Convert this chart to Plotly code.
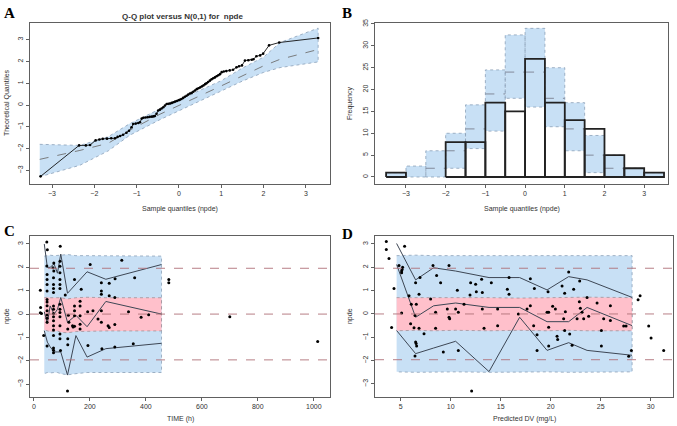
import plotly.graph_objects as go

# ---------------- data ----------------
# A: Q-Q plot (sample quantiles vs theoretical)
qq_x = [-3.27, -2.36, -2.2, -2.1, -1.97, -1.88, -1.80, -1.70, -1.60, -1.51, -1.45, -1.39,
        -1.32, -1.24, -1.18, -1.12, -1.08, -1.02, -0.96, -0.92, -0.88, -0.84, -0.79, -0.74,
        -0.69, -0.64, -0.60, -0.57, -0.53, -0.49, -0.45, -0.41, -0.37, -0.33, -0.29, -0.25,
        -0.21, -0.17, -0.13, -0.09, -0.05, -0.01, 0.02, 0.06, 0.10, 0.14, 0.18, 0.22, 0.26,
        0.30, 0.34, 0.38, 0.42, 0.46, 0.50, 0.54, 0.58, 0.62, 0.65, 0.69, 0.73, 0.77, 0.81,
        0.85, 0.89, 0.93, 0.97, 1.01, 1.06, 1.12, 1.20, 1.28, 1.36, 1.42, 1.49, 1.56, 1.64,
        1.72, 1.76, 1.83, 1.92, 1.99, 2.13, 2.37, 3.29]
qq_y = [-3.27, -1.85, -1.85, -1.83, -1.62, -1.58, -1.55, -1.54, -1.52, -1.52, -1.46, -1.42,
        -1.36, -1.27, -1.18, -1.02, -0.87, -0.85, -0.82, -0.79, -0.62, -0.58, -0.57, -0.56,
        -0.54, -0.53, -0.52, -0.50, -0.40, -0.25, -0.21, -0.16, -0.10, -0.02, 0.05, 0.06,
        0.07, 0.10, 0.13, 0.16, 0.19, 0.22, 0.24, 0.28, 0.33, 0.38, 0.43, 0.48, 0.53,
        0.56, 0.61, 0.67, 0.73, 0.77, 0.81, 0.85, 0.90, 0.96, 1.00, 1.06, 1.12, 1.18, 1.23,
        1.27, 1.32, 1.37, 1.42, 1.51, 1.54, 1.56, 1.59, 1.62, 1.73, 1.78, 1.82, 2.04, 2.06,
        2.08, 2.10, 2.24, 2.28, 2.36, 2.74, 2.87, 3.08]
qq_band_x = [-3.29, -2.34, -1.67, -1.16, -0.45, 0.0, 0.5, 1.0, 1.5, 2.0, 2.39, 3.29]
qq_band_lo = [-3.29, -2.76, -2.10, -1.38, -0.67, -0.24, 0.18, 0.65, 1.10, 1.50, 1.72, 1.98]
qq_band_med = [-2.49, -2.08, -1.75, -1.15, -0.42, 0.0, 0.43, 0.88, 1.33, 1.80, 2.10, 2.55]
qq_band_hi = [-1.80, -1.85, -1.45, -0.85, -0.18, 0.24, 0.68, 1.12, 1.70, 2.20, 2.87, 3.53]

# B: histogram of npde with prediction intervals
hist_left = [-3.5, -3.0, -2.5, -2.0, -1.5, -1.0, -0.5, 0.0, 0.5, 1.0, 1.5, 2.0, 2.5, 3.0]
hist_width = 0.5
hist_obs = [1, 0, 0, 8, 8, 17, 15, 27, 17, 13, 11, 5, 2, 1]
hist_pi_lo = [0, 0, 0, 2, 6.5, 10.5, 18, 16, 11.5, 6, 1, 0, 0, 0]
hist_pi_med = [0, 0, 2, 6, 11, 19, 24, 24, 18, 11, 5, 2, 0, 0]
hist_pi_hi = [1, 2.5, 6, 10, 16.5, 24.5, 32.5, 34, 25, 17, 9.5, 5, 2, 1]

ref_lines = [-1.96, 0, 1.96]

# C: npde vs time
c_bin_x = [37, 48, 58, 72, 84, 96, 120, 150, 190, 257, 456]
c_obs_hi = [3.0, 2.0, 2.0, 2.15, 1.75, 2.57, 0.89, 1.28, 1.81, 1.49, 2.12]
c_obs_med = [0.1, -0.4, 0.35, 0.0, 0.2, 0.71, -0.35, -0.05, -0.54, 0.54, 0.0]
c_obs_lo = [-0.71, -1.2, -1.4, -1.62, -1.62, -1.62, -2.61, -0.92, -1.84, -1.48, -1.25]
c_pi_hi = [2.48, 2.5, 2.52, 2.5, 2.5, 2.52, 2.55, 2.5, 2.5, 2.5, 2.48]
c_pi_lo = [-2.55, -2.5, -2.52, -2.5, -2.5, -2.55, -2.6, -2.55, -2.5, -2.5, -2.5]
c_med_hi = [0.7, 0.72, 0.7, 0.7, 0.68, 0.7, 0.65, 0.7, 0.72, 0.7, 0.7]
c_med_lo = [-0.68, -0.72, -0.75, -0.75, -0.72, -0.78, -0.8, -0.75, -0.72, -0.72, -0.72]

c_time = [23, 24, 23, 27, 35,
          46, 48, 46, 47, 47, 47, 47, 47, 47, 47, 47, 47, 47, 47, 47,
          71, 68, 71, 70, 70, 70, 70, 70, 70, 70, 70, 70, 70, 70, 70, 70, 70, 70,
          94, 93, 93, 93, 93, 93, 93, 93, 93, 93, 93, 93, 93, 93, 95,
          121, 121, 121, 120, 112, 123, 125,
          145, 145, 145, 145, 138, 140, 145,
          169, 165, 165, 165, 165, 165,
          193, 192, 201, 211, 229,
          241, 241, 241, 241, 241, 243,
          269, 269, 265, 269,
          290, 289, 289, 289,
          314, 338, 360, 383, 410, 355,
          482, 482, 700, 1014]
c_npde = [1.02, 0.28, 0.06, 0.02, -0.92,
          3.08, 2.75, 2.06, 1.69, 1.48, 1.27, 0.99, 0.62, 0.52, 0.36, 0.14, -0.04, -0.18, -0.35, -1.37,
          2.19, 1.98, 1.84, 1.55, 1.27, 1.09, 0.92, 0.35, 0.21, 0.03, -0.11, -0.28, -0.5, -0.68, -0.92, -1.45, -1.55, -1.65,
          2.9, 2.26, 2.05, 1.77, 1.48, 1.27, 1.09, 0.42, 0.21, 0.07, -0.11, -0.5, -0.85, -1.06, -1.56,
          -0.64, -1.06, -1.31, -3.29, 0.82, -0.05, -0.35,
          1.48, 0.35, 0.14, -0.07, -0.5, -0.55, -0.52,
          1.06, 0.55, 0.35, -0.07, -0.43, -0.64,
          -1.34, 0.1, 2.12, 0.14, -0.21,
          1.34, 0.99, 0.85, 0.14, -0.35, -1.48,
          1.32, 0.78, -0.5, -0.57,
          1.51, 0.71, -0.45, -1.41,
          2.3, 0.1, 1.55, -0.14, -0.03, -1.27,
          1.48, 1.34, -0.11, -1.17]

# D: npde vs predicted DV
d_bin_x = [4.6, 6.5, 8.3, 10.5, 13.84, 16.9, 19.64, 21.8, 23.64, 28.14]
d_obs_hi = [3.02, 1.46, 1.98, 1.84, 1.56, 1.56, 1.03, 1.6, 1.46, 0.71]
d_obs_med = [2.12, -0.14, 0.35, 0.47, 0.28, 0.28, -0.33, -0.33, 0.28, -0.5]
d_obs_lo = [-0.71, -1.7, -1.46, -1.17, -2.47, -0.14, -1.56, -1.23, -1.56, -1.77]
d_pi_hi = [2.5, 2.52, 2.5, 2.5, 2.52, 2.5, 2.5, 2.52, 2.5, 2.5]
d_pi_lo = [-2.48, -2.5, -2.5, -2.48, -2.5, -2.5, -2.48, -2.5, -2.5, -2.48]
d_med_hi = [0.7, 0.7, 0.72, 0.7, 0.7, 0.68, 0.7, 0.7, 0.72, 0.7]
d_med_lo = [-0.72, -0.7, -0.72, -0.7, -0.72, -0.7, -0.72, -0.7, -0.72, -0.72]

d_pred = [3.57, 3.57, 3.84, 4.34, 4.1, 4.84, 5.1, 5.1, 5.15, 5.2, 5.4, 5.1, 5.84, 6.07, 6.0,
          6.34, 6.5, 6.94, 6.57, 6.84, 6.44, 6.5, 6.55, 6.6, 6.44, 6.84, 7.34, 8.0, 8.24, 8.5,
          8.5, 8.6, 9.0, 9.27, 9.84, 9.67, 9.84, 9.9, 10.67, 10.5, 10.77, 10.77, 11.34, 12.0,
          12.5, 11.94, 12.57, 13.1, 13.17, 13.17, 13.34, 14.07, 14.7, 14.7, 15.67, 15.84,
          15.84, 16.77, 17.97, 18.37, 17.97, 17.64, 18.3, 18.64, 18.64, 19.64, 19.8, 19.74,
          19.8, 19.8, 20.2, 20.47, 20.64, 20.7, 21.14, 21.4, 21.47, 21.3, 21.4, 21.8, 21.9,
          22.14, 22.3, 22.64, 22.9, 22.87, 22.97, 23.14, 23.3, 23.64, 23.8, 24.64, 25.07,
          25.07, 25.3, 25.97, 25.97, 27.3, 27.54, 27.8, 28.07, 28.74, 28.94, 29.8, 30.04,
          31.3, 12.1]
d_npde = [3.11, 2.76, 2.38, 1.09, -0.58, 2.08, 1.84, 1.77, 1.91, 2.0, 2.9, 0.04, 0.78, 0.42,
          -0.42, -0.59, 1.34, 1.56, 0.42, 0.85, -0.07, -1.2, -1.27, -1.37, -1.8, -0.61, -0.85,
          0.64, 2.08, 0.07, -0.61, 1.65, 1.34, -1.63, 2.08, 0.21, -0.14, -0.21, 1.02, 0.21,
          0.07, -1.56, 0.42, 1.34, 1.27, 0.81, 0.95, 1.49, 0.92, 0.21, -0.61, 1.34, -0.5,
          0.21, 1.06, 0.85, 1.56, 0.0, 1.51, 1.09, 0.35, 0.21, -0.5, -0.89, -1.56, 0.07, 0.07,
          0.95, -0.57, -1.37, 0.33, 0.21, -0.95, -1.09, 1.2, 0.89, 0.1, -0.21, -0.71, 1.8,
          -0.86, -1.34, 1.06, -0.21, 1.41, 0.52, 0.24, 0.07, -0.21, 0.71, -0.1, 0.47, -0.71,
          -1.37, -0.21, 0.35, -0.28, -0.52, -0.52, -1.81, -1.56, 0.61, 0.78, -0.52, -1.03,
          -1.56, -3.3]

# ---------------- styling ----------------
W, H = 677, 426
BLUE = "#c8e0f5"
BLUE_EDGE = "#8aa0b8"
PINK = "#ffc0cb"
PINK_EDGE = "#a09098"
OBS_LINE = "#3d4654"
REF = "#b07078"
FONT = "Liberation Sans, Arial, sans-serif"


def fx(p):
    return p / W


def fy(p):
    return 1 - p / H


fig = go.Figure()

# ---- A ----
fig.add_trace(go.Scatter(x=qq_band_x + qq_band_x[::-1], y=qq_band_hi + qq_band_lo[::-1],
                         fill="toself", fillcolor=BLUE, mode="lines",
                         line=dict(color=BLUE_EDGE, width=0.8, dash="dot"),
                         xaxis="x", yaxis="y"))
fig.add_trace(go.Scatter(x=qq_band_x, y=qq_band_med, mode="lines",
                         line=dict(color="#707070", width=0.9, dash="dash"),
                         xaxis="x", yaxis="y"))
fig.add_trace(go.Scatter(x=qq_x, y=qq_y, mode="lines+markers",
                         line=dict(color="#111", width=0.9),
                         marker=dict(color="#000", size=2.6),
                         xaxis="x", yaxis="y"))

# ---- B ----
# prediction-interval boxes for each bin
fig.add_trace(go.Bar(x=[l + hist_width / 2 for l in hist_left],
                     y=[hi - lo for lo, hi in zip(hist_pi_lo, hist_pi_hi)],
                     base=hist_pi_lo, width=hist_width,
                     marker=dict(color=BLUE, line=dict(width=0)),
                     xaxis="x2", yaxis="y2"))
box_x, box_y = [], []
for left, lo, hi in zip(hist_left, hist_pi_lo, hist_pi_hi):
    r = left + hist_width
    box_x += [left, left, r, r, left, None]
    box_y += [lo, hi, hi, lo, lo, None]
fig.add_trace(go.Scatter(x=box_x, y=box_y, mode="lines",
                         line=dict(color=BLUE_EDGE, width=0.8, dash="dot"),
                         xaxis="x2", yaxis="y2"))
med_x, med_y = [], []
for left, med in zip(hist_left, hist_pi_med):
    if med > 0:
        med_x += [left, left + hist_width, None]
        med_y += [med, med, None]
fig.add_trace(go.Scatter(x=med_x, y=med_y, mode="lines",
                         line=dict(color="#7a8090", width=0.9, dash="dash"),
                         xaxis="x2", yaxis="y2"))
# observed histogram outlines
bar_x, bar_y = [], []
for left, h in zip(hist_left, hist_obs):
    if h > 0:
        r = left + hist_width
        bar_x += [left, left, r, r, left, None]
        bar_y += [0, h, h, 0, 0, None]
fig.add_trace(go.Scatter(x=bar_x, y=bar_y, mode="lines", fill="none",
                         line=dict(color="#222", width=1.8),
                         xaxis="x2", yaxis="y2"))


# ---- C and D ----
def vpc_panel(bx, pi_hi, pi_lo, m_hi, m_lo, o_hi, o_med, o_lo, px_, py_, xa, ya):
    fig.add_trace(go.Scatter(x=bx + bx[::-1], y=pi_hi + pi_lo[::-1], fill="toself",
                             fillcolor=BLUE, mode="lines",
                             line=dict(color=BLUE_EDGE, width=0.8, dash="dot"),
                             xaxis=xa, yaxis=ya))
    fig.add_trace(go.Scatter(x=bx + bx[::-1], y=m_hi + m_lo[::-1], fill="toself",
                             fillcolor=PINK, mode="lines",
                             line=dict(color=PINK_EDGE, width=0.8, dash="dot"),
                             xaxis=xa, yaxis=ya))
    for series in (o_hi, o_med, o_lo):
        fig.add_trace(go.Scatter(x=bx, y=series, mode="lines",
                                 line=dict(color=OBS_LINE, width=1),
                                 xaxis=xa, yaxis=ya))
    fig.add_trace(go.Scatter(x=px_, y=py_, mode="markers",
                             marker=dict(color="#000", size=3),
                             xaxis=xa, yaxis=ya))


vpc_panel(c_bin_x, c_pi_hi, c_pi_lo, c_med_hi, c_med_lo, c_obs_hi, c_obs_med, c_obs_lo,
          c_time, c_npde, "x3", "y3")
vpc_panel(d_bin_x, d_pi_hi, d_pi_lo, d_med_hi, d_med_lo, d_obs_hi, d_obs_med, d_obs_lo,
          d_pred, d_npde, "x4", "y4")

shapes = []
for xa, ya in (("x3", "y3"), ("x4", "y4")):
    for r in ref_lines:
        shapes.append(dict(type="line", xref=f"{xa} domain", yref=ya, x0=0, x1=1, y0=r, y1=r,
                           line=dict(color=REF, width=0.9, dash="dash"), layer="above"))

axis_style = dict(showline=True, mirror=True, linecolor="#606060", linewidth=1,
                  ticks="outside", ticklen=3, tickwidth=1, tickcolor="#606060",
                  showgrid=False, zeroline=False,
                  tickfont=dict(family=FONT, size=7, color="#333"))
y_style = dict(axis_style, tickangle=-90)

fig.update_layout(
    width=W, height=H, margin=dict(l=0, r=0, t=0, b=0),
    plot_bgcolor="white", paper_bgcolor="white", showlegend=False,
    font=dict(family=FONT, color="#333"), barmode="overlay",
    shapes=shapes,
    xaxis=dict(axis_style, domain=[fx(30), fx(330)], range=[-3.52, 3.57], anchor="y",
               tickvals=[-3, -2, -1, 0, 1, 2, 3]),
    yaxis=dict(y_style, domain=[fy(181.7), fy(19.3)], range=[-3.62, 3.76], anchor="x",
               tickvals=[-3, -2, -1, 0, 1, 2, 3]),
    xaxis2=dict(axis_style, domain=[fx(375), fx(668)], range=[-3.78, 3.6], anchor="y2",
                tickvals=[-3, -2, -1, 0, 1, 2, 3]),
    yaxis2=dict(y_style, domain=[fy(181.7), fy(19.3)], range=[-1.6, 35.2], anchor="x2",
                tickvals=[0, 5, 10, 15, 20, 25, 30, 35]),
    xaxis3=dict(axis_style, domain=[fx(30), fx(330)], range=[-14, 1058], anchor="y3",
                tickvals=[0, 200, 400, 600, 800, 1000]),
    yaxis3=dict(y_style, domain=[fy(396.3), fy(234.7)], range=[-3.53, 3.32], anchor="x3",
                tickvals=[-3, -2, -1, 0, 1, 2, 3]),
    xaxis4=dict(axis_style, domain=[fx(375), fx(673)], range=[2.44, 32.23], anchor="y4",
                tickvals=[5, 10, 15, 20, 25, 30]),
    yaxis4=dict(y_style, domain=[fy(396.3), fy(234.7)], range=[-3.54, 3.32], anchor="x4",
                tickvals=[-3, -2, -1, 0, 1, 2, 3]),
)

ann = []


def text(x, y, s, size=7, angle=0, bold=False, serif=False):
    ann.append(dict(x=fx(x), y=fy(y), xref="paper", yref="paper", text=f"<b>{s}</b>" if bold else s,
                    showarrow=False, textangle=angle, xanchor="center", yanchor="middle",
                    font=dict(size=size, color="#000" if serif else "#333",
                              family="Liberation Serif, Times New Roman, serif" if serif else FONT)))


text(183, 13, "Q-Q plot versus N(0,1) for  npde", size=8, bold=True)
text(180, 207, "Sample quantiles (npde)")
text(7, 100, "Theoretical Quantiles", angle=-90)
text(522, 207, "Sample quantiles (npde)")
text(350, 100, "Frequency", angle=-90)
text(180, 419, "TIME (h)")
text(7, 315, "npde", angle=-90)
text(524, 419, "Predicted DV (mg/L)")
text(350, 315, "npde", angle=-90)
text(9, 9, "A", size=15, bold=True, serif=True)
text(347, 9, "B", size=15, bold=True, serif=True)
text(9, 229, "C", size=15, bold=True, serif=True)
text(347, 232, "D", size=15, bold=True, serif=True)
fig.update_layout(annotations=ann)

# remove the default page margin so the figure sits at the window's top-left corner
fig.write_html("out.html", config={"displayModeBar": False},
               post_script="document.body.style.margin='0';")
